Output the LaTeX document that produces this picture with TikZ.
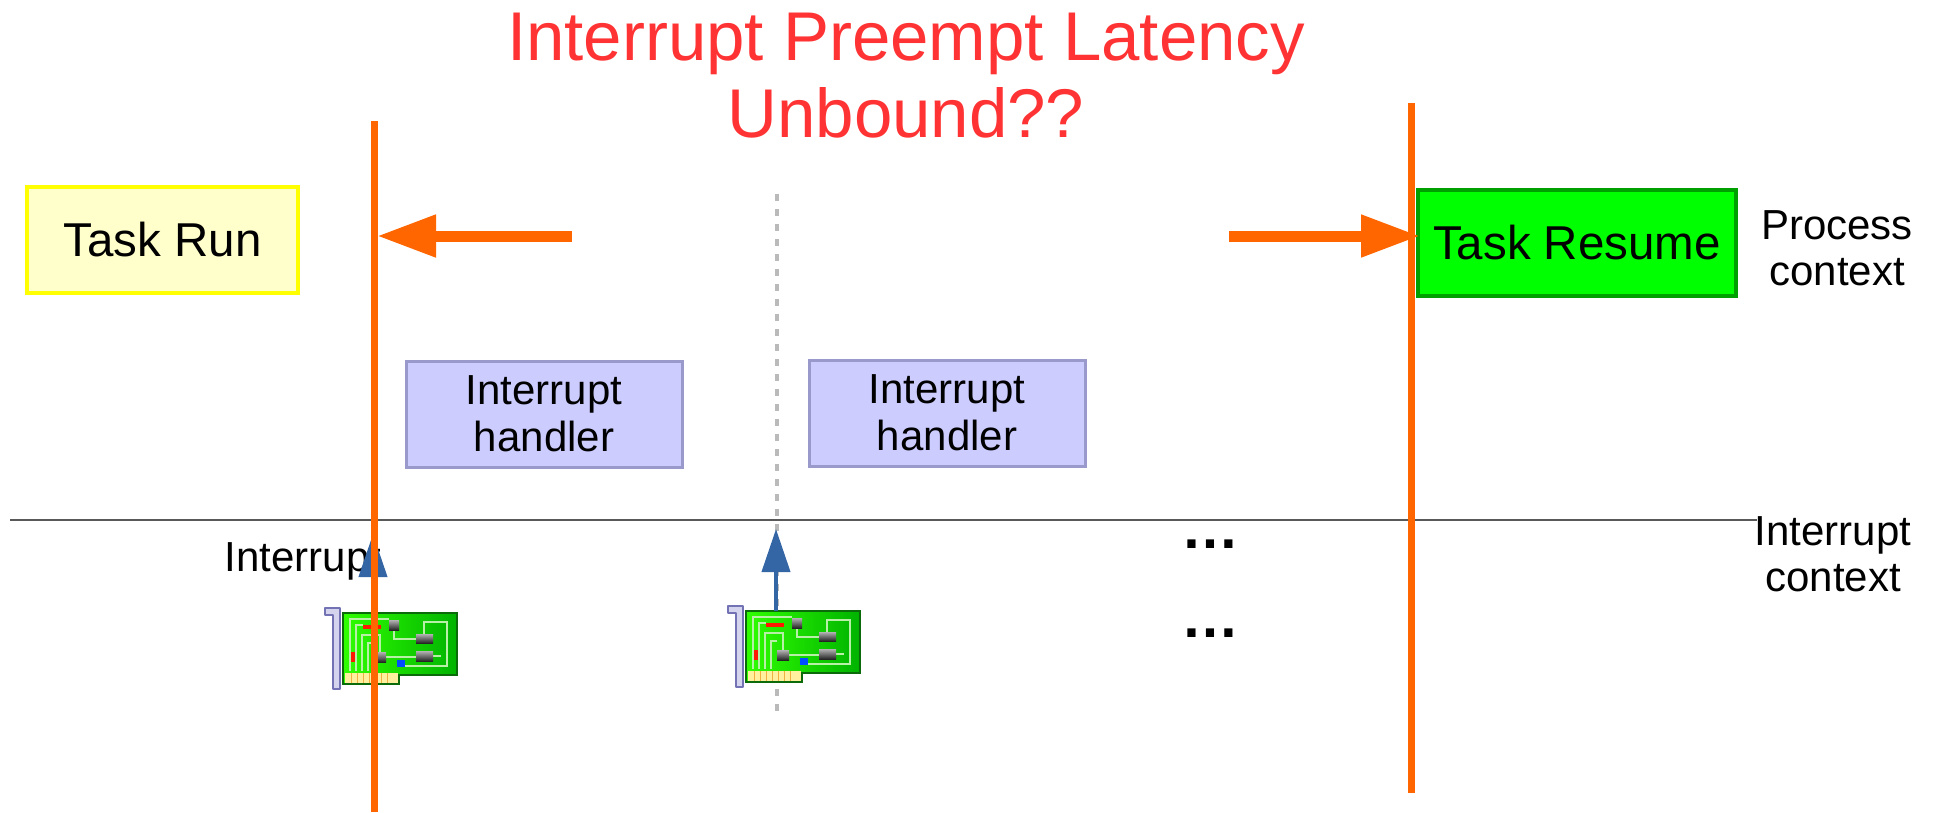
\documentclass[tikz,border=0pt]{standalone}
\usepackage{fontspec}
\setmainfont{Liberation Sans}
\usetikzlibrary{arrows.meta}

\definecolor{latorange}{HTML}{FF6600}
\definecolor{irqblue}{HTML}{3465A4}
\definecolor{titlered}{HTML}{FF3333}
\definecolor{runfill}{HTML}{FFFFCC}
\definecolor{runedge}{HTML}{FFFF00}
\definecolor{resumefill}{HTML}{00FF00}
\definecolor{resumeedge}{HTML}{00A000}
\definecolor{hdlfill}{HTML}{CCCCFF}
\definecolor{hdledge}{HTML}{9999CC}
\definecolor{bracketfill}{HTML}{D4D4EE}
\definecolor{bracketedge}{HTML}{7272B4}
\definecolor{boardedge}{HTML}{0B6B0B}
\definecolor{tracegreen}{HTML}{B8F0A8}
\definecolor{pinyellow}{HTML}{FFF0A0}
\definecolor{pinorange}{HTML}{F0B040}

\tikzset{
	taskbox/.style={draw, line width=3.5pt, minimum height=106pt, inner sep=0pt,
		font=\fontsize{47.5}{52}\selectfont},
	hdlbox/.style={draw=hdledge, fill=hdlfill, line width=3pt, minimum width=276pt,
		minimum height=106pt, inner sep=0pt, align=center, font=\fontsize{42}{47}\selectfont},
	ctxlabel/.style={inner sep=0pt, align=center, font=\fontsize{42}{46}\selectfont},
	moredots/.style={inner sep=0pt, anchor=base, font=\fontsize{58}{58}\selectfont\bfseries},
	latline/.style={latorange, line width=7pt},
	latarrow/.style={latorange, line width=11pt, -{Triangle[length=59pt, width=40pt]}},
	irqarrow/.style={irqblue, line width=4pt, -{Triangle[length=43pt, width=28pt]}},
	% network card, origin = top left corner of the board
	nic/.pic={
		\draw[draw=bracketedge, fill=bracketfill, line width=2pt, line join=round]
			(-18,-5) -- (-3,-5) -- (-3,76) -- (-10,76) -- (-10,2) -- (-18,2) -- cycle;
		\draw[draw=boardedge, line width=2.5pt, left color=green!75!lime, right color=green!70!black]
			(0,0) -- (114,0) -- (114,62) -- (56,62) -- (56,71) -- (0,71) -- cycle;
		%% traces
		\draw[tracegreen, line width=2pt]
			(7,58) -- (7,6) -- (46,6)
			(13,58) -- (13,12) -- (20,12)
			(19,58) -- (19,22) -- (37,22) -- (37,39)
			(25,58) -- (25,30) -- (31,30)
			(51,17) -- (51,26) -- (73,26)
			(81,21) -- (81,9) -- (104,9) -- (104,53) -- (60,53)
			(43,44) -- (73,44)
			(90,43) -- (98,43);
		%% chips
		\foreach \cx/\cy/\cw/\ch in {46/7/10/10, 73/21/17/9, 73/38/17/10, 31/39/12/10}
			\shade[top color=gray!60, bottom color=black!85] (\cx,\cy) rectangle ++(\cw,\ch);
		\fill[red!80!orange] (20,12) rectangle (38,16);
		\fill[red!80!orange] (8,39) rectangle (12,49);
		\fill[blue!70!cyan] (54,47) rectangle (62,54);
		%% edge connector
		\fill[pinyellow] (2,60) rectangle (55,70);
		\foreach \px in {8,14,20,26,32,38,44}
			\draw[pinorange, line width=1pt] (\px,60) -- (\px,70);
		\coordinate (-top) at (30,0);
	}
}

\begin{document}
\begin{tikzpicture}[x=1pt, y=-1pt]
	\useasboundingbox (0,0) rectangle (1937,812);

	%%% Titolo
	\node[text=titlered, align=center, inner sep=0pt, font=\fontsize{69}{77}\selectfont]
		(title) at (906,76) {Interrupt Preempt Latency\\Unbound??};

	%%% Task
	\node[taskbox, draw=runedge, fill=runfill, minimum width=271pt] (run) at (162.5,240) {Task Run};
	\node[taskbox, draw=resumeedge, fill=resumefill, minimum width=318pt] (resume) at (1577,243) {Task Resume};

	%%% Handler
	\node[hdlbox] (hdl1) at (544,414) {Interrupt\\handler};
	\node[hdlbox] (hdl2) at (947,413) {Interrupt\\handler};
	\node[moredots] (dots1) at (1210,548) {…};
	\node[moredots] (dots2) at (1210,637) {…};

	%%% Contesti
	\node[ctxlabel] (procctx) at (1837,248) {Process\\context};
	\node[ctxlabel] (irqctx) at (1833,554) {Interrupt\\context};
	\coordinate (sepL) at (10,520);
	\coordinate (sepR) at (1757,520);
	\draw[black!65, line width=1.5pt] (sepL) -- (sepR);

	% linea tratteggiata centrale
	\coordinate (midtop) at (777,194);
	\coordinate (midbot) at (777,718);
	\draw[black!27, line width=4pt, dash pattern=on 7pt off 8pt] (midtop) -- (midbot);

	%%% Schede di rete
	\pic (card1) at (343,613) {nic};
	\pic (card2) at (746,611) {nic};
	\node[ctxlabel] (irqlabel) at (303,561) {Interrupt};
	\coordinate (irq1) at (373,534);
	\coordinate (irq2) at (776,529);
	\draw[irqarrow] (card1-top) -- (irq1);
	\draw[irqarrow] (card2-top) -- (irq2);

	%%% Latenza
	\coordinate (startA) at (374.5,121);
	\coordinate (endA) at (374.5,812);
	\coordinate (startB) at (1411.5,103);
	\coordinate (endB) at (1411.5,793);
	\draw[latline] (startA) -- (endA);
	\draw[latline] (startB) -- (endB);
	\coordinate (fromA) at (572,236);
	\coordinate (hitA) at (377,236);
	\coordinate (fromB) at (1229,236);
	\coordinate (hitB) at (1420,236);
	\draw[latarrow] (fromA) -- (hitA);
	\draw[latarrow] (fromB) -- (hitB);
\end{tikzpicture}
\end{document}
